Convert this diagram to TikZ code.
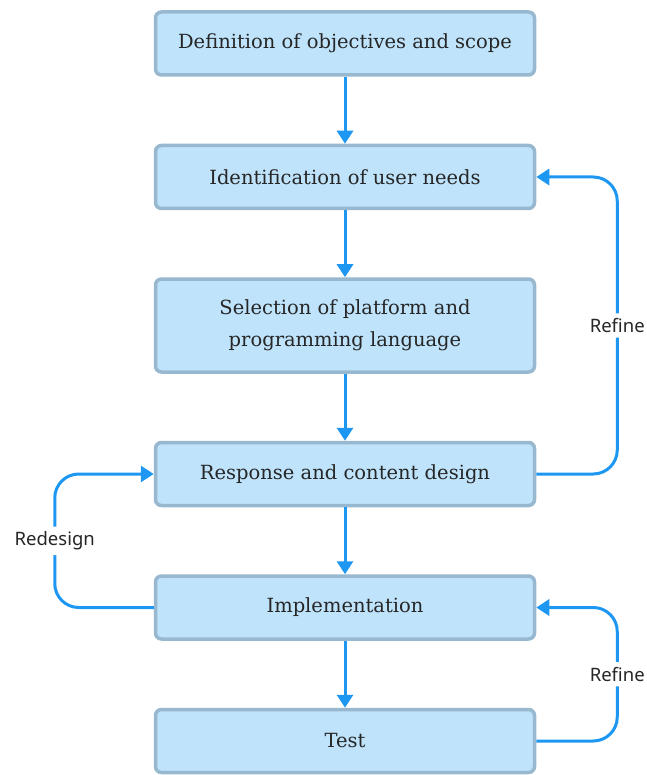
\documentclass[tikz,border=0pt]{standalone}
\usepackage{fontspec}
\setmainfont{DejaVu Serif}
\newfontfamily\lblfont{Noto Sans}
\usetikzlibrary{positioning,arrows.meta}
\definecolor{boxfill}{HTML}{BEE3FB}
\definecolor{boxline}{HTML}{98B8D0}
\definecolor{flow}{HTML}{1E97F3}
\definecolor{ink}{HTML}{262626}
\begin{document}
\begin{tikzpicture}[x=1pt,y=1pt,node distance=67pt,
  stage/.style={draw=boxline,fill=boxfill,line width=3.5pt,rounded corners=6pt,
    minimum width=379pt,minimum height=63pt,align=center,text=ink,
    font=\fontsize{19.5}{32}\selectfont},
  flowarrow/.style={flow,line width=3pt,-{Triangle[length=13pt,width=16pt]}},
  loopline/.style={flowarrow,rounded corners=24pt},
  lbl/.style={fill=white,text=ink,inner sep=5pt,font=\lblfont\fontsize{18.5}{22}\selectfont}]
\useasboundingbox (0,0) rectangle (646,-775);
\node[stage] (def) at (345,-43.5) {Definition of objectives and scope};
\node[stage,below=of def] (needs) {Identification of user needs};
\node[stage,below=of needs,minimum height=93pt] (select) {Selection of platform and\\programming language};
\node[stage,below=of select] (design) {Response and content design};
\node[stage,below=of design] (impl) {Implementation};
\node[stage,below=of impl] (test) {Test};
% main flow
\draw[flowarrow] (def) -- (needs);
\draw[flowarrow] (needs) -- (select);
\draw[flowarrow] (select) -- (design);
\draw[flowarrow] (design) -- (impl);
\draw[flowarrow] (impl) -- (test);
% feedback loops
\draw[loopline] (design.east) -- ++(81,0) coordinate (r1) |- (needs.east) node[pos=0.25,lbl] {Refine};
\draw[loopline] (impl.west) -- ++(-99,0) coordinate (r2) |- (design.west) node[pos=0.25,lbl] {Redesign};
\draw[loopline] (test.east) -- ++(81,0) coordinate (r3) |- (impl.east) node[pos=0.25,lbl] {Refine};
\end{tikzpicture}
\end{document}
